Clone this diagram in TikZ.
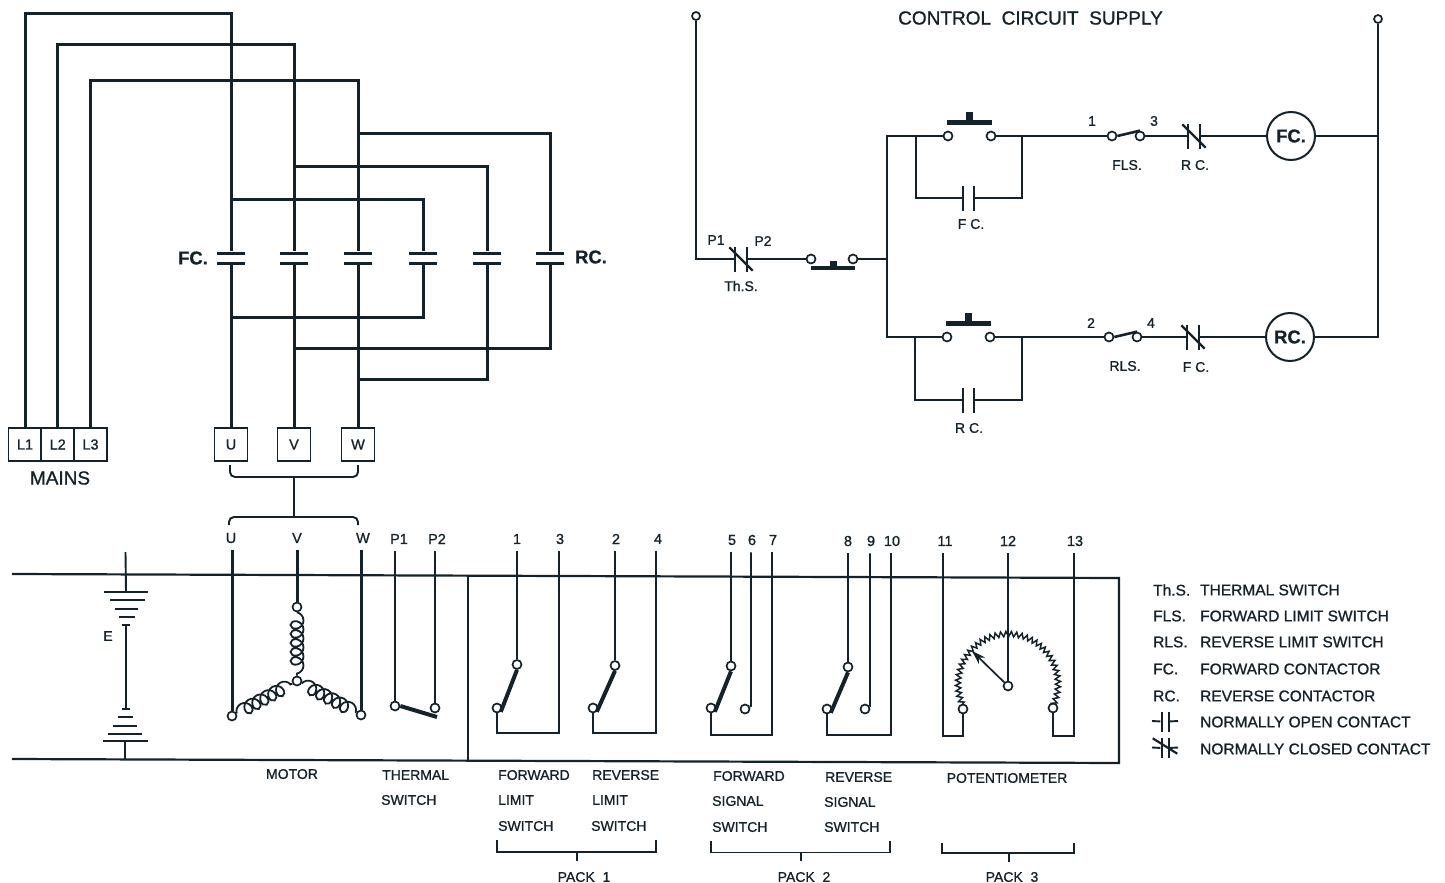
\documentclass[tikz,border=0pt]{standalone}
\usepackage{fontspec}
\setmainfont{Liberation Sans}[FakeBold=1]
\usetikzlibrary{arrows.meta, decorations.pathmorphing}
\definecolor{inkc}{HTML}{15222A}
\tikzstyle{every picture} = [x=1pt,y=-1pt]
\tikzstyle{every node} = [text=inkc]
\tikzstyle{wire} = [-,line width=1.9pt,draw=inkc,line join=miter]
\tikzstyle{power} = [-,line width=3pt,draw=inkc,line join=miter]
\tikzstyle{bus} = [-,line width=2.2pt,draw=inkc,line join=miter]
\tikzstyle{blade} = [-,line width=4pt,draw=inkc]
\tikzstyle{coilwire} = [-,line width=1.8pt,draw=inkc,decorate,decoration={coil,segment length=9pt,amplitude=6.5pt,aspect=0.9}]
\tikzstyle{wiper} = [line width=1.7pt,draw=inkc,-{Stealth[length=14pt,width=9pt]}]
\tikzstyle{term} = [circle,draw=inkc,fill=white,line width=1.7pt,inner sep=0pt,minimum size=9pt]
\tikzstyle{plate} = [rectangle,fill=inkc,inner sep=0pt,minimum width=28pt,minimum height=3pt]
\tikzstyle{vplate} = [rectangle,fill=inkc,inner sep=0pt,minimum width=2pt,minimum height=25pt]
\tikzstyle{slash} = [rectangle,fill=inkc,inner sep=0pt,minimum width=33pt,minimum height=2.2pt,rotate=-45]
\tikzstyle{bar} = [rectangle,fill=inkc,inner sep=0pt,minimum width=45pt,minimum height=5pt]
\tikzstyle{bump} = [rectangle,fill=inkc,inner sep=0pt,minimum width=7pt,minimum height=8pt]
\tikzstyle{termbox} = [rectangle,draw=inkc,line width=1.8pt,minimum width=33pt,minimum height=33pt,inner sep=0pt,font=\fontsize{14.5}{16}\selectfont]
\tikzstyle{lbl} = [inner xsep=1pt,inner ysep=7pt,font=\fontsize{14.5}{16}\selectfont]
\tikzstyle{txt} = [inner sep=1pt,font=\fontsize{14}{16}\selectfont]
\tikzstyle{txtw} = [txt,anchor=west]
\tikzstyle{lgd} = [anchor=west,inner sep=1pt,font=\fontsize{15.5}{17}\selectfont]
\tikzstyle{bold} = [inner sep=0pt,font=\bfseries\fontsize{18.5}{20}\selectfont]
\tikzstyle{coilnode} = [circle,draw=inkc,line width=2pt,inner sep=0pt,minimum size=48pt,font=\bfseries\fontsize{18.5}{20}\selectfont]
\begin{document}
\begin{tikzpicture}
            \fill[white] (0,0) rectangle (1445,883);
            \useasboundingbox (0,0) rectangle (1445,883);

            % mains and contactors
            \node (box L1) at(25,444.5) [termbox] {L1};
            \node (box L2) at(57.7,444.5) [termbox] {L2};
            \node (box L3) at(90.5,444.5) [termbox] {L3};
            \node (box U) at(231,444.5) [termbox] {U};
            \node (box V) at(294,444.5) [termbox] {V};
            \node (box W) at(358,444.5) [termbox] {W};
            \node (mains) at(60,478) [inner sep=1pt,font=\fontsize{19}{21}\selectfont] {MAINS};

            \node (fc U top) at(231,253) [plate] {};
            \node (fc U bot) at(231,263) [plate] {};
            \node (fc V top) at(294,253) [plate] {};
            \node (fc V bot) at(294,263) [plate] {};
            \node (fc W top) at(358,253) [plate] {};
            \node (fc W bot) at(358,263) [plate] {};
            \node (rc U top) at(423,253) [plate] {};
            \node (rc U bot) at(423,263) [plate] {};
            \node (rc V top) at(487,253) [plate] {};
            \node (rc V bot) at(487,263) [plate] {};
            \node (rc W top) at(550,253) [plate] {};
            \node (rc W bot) at(550,263) [plate] {};
            \node (fc name) at(193,258) [bold] {FC.};
            \node (rc name) at(591,257) [bold] {RC.};

            \coordinate (L1 a) at(25,14);
            \coordinate (L1 b) at(231,14);
            \coordinate (L2 a) at(57.7,45);
            \coordinate (L2 b) at(294,45);
            \coordinate (L3 a) at(90.5,80);
            \coordinate (L3 b) at(358,80);
            \coordinate (up U) at(231,199);
            \coordinate (up V) at(294,166);
            \coordinate (up W) at(358,133);
            \coordinate (dn U) at(231,317);
            \coordinate (dn V) at(294,348);
            \coordinate (dn W) at(358,379);

            \draw[power] (box L1) -- (L1 a) -- (L1 b) -- (fc U top);
            \draw[power] (box L2) -- (L2 a) -- (L2 b) -- (fc V top);
            \draw[power] (box L3) -- (L3 a) -- (L3 b) -- (fc W top);
            \draw[power] (up U) -| (rc U top);
            \draw[power] (up V) -| (rc V top);
            \draw[power] (up W) -| (rc W top);
            \draw[power] (dn U) -| (rc U bot);
            \draw[power] (dn V) -| (rc W bot);
            \draw[power] (dn W) -| (rc V bot);
            \path   (fc U bot) edge[power] (box U)
                    (fc V bot) edge[power] (box V)
                    (fc W bot) edge[power] (box W);

            % brace between the terminals and the motor
            \coordinate (brace U) at(230,465);
            \coordinate (brace W) at(358,465);
            \coordinate (brace top) at(294,477);
            \coordinate (brace bot) at(294,517);
            \coordinate (brace u) at(229,525);
            \coordinate (brace w) at(358,525);
            \draw[wire,rounded corners=5pt] (brace U) |- (brace top) -| (brace W);
            \draw[wire,rounded corners=5pt] (brace u) |- (brace bot) -| (brace w);
            \path (brace top) edge[wire] (brace bot);

            % battery and frame
            \coordinate (frame a) at(12,574);
            \coordinate (frame b) at(1119,578);
            \coordinate (frame c) at(1119,763);
            \coordinate (frame d) at(12,759);
            \coordinate (frame e) at(468,576);
            \coordinate (frame f) at(468,760);
            \draw[bus] (frame a) -- (frame b) -- (frame c) -- (frame d);
            \path (frame e) edge[bus] (frame f);

            \coordinate (bat top) at(125.5,552);
            \coordinate (bat foot) at(125.5,759);
            \node (bat 1) at(126,592) [plate,minimum width=44pt,minimum height=2pt] {};
            \node (bat 2) at(127,600) [plate,minimum width=35pt,minimum height=2pt] {};
            \node (bat 3) at(126,608.5) [plate,minimum width=23pt,minimum height=2pt] {};
            \node (bat 4) at(127,617) [plate,minimum width=16pt,minimum height=2pt] {};
            \node (bat 5) at(126,625) [plate,minimum width=8pt,minimum height=2pt] {};
            \node (bat 6) at(126,709) [plate,minimum width=8pt,minimum height=2pt] {};
            \node (bat 7) at(125.5,717) [plate,minimum width=15pt,minimum height=2pt] {};
            \node (bat 8) at(125,726) [plate,minimum width=24pt,minimum height=2pt] {};
            \node (bat 9) at(125,733.5) [plate,minimum width=34pt,minimum height=2pt] {};
            \node (bat 10) at(125,741) [plate,minimum width=45pt,minimum height=2pt] {};
            \node (bat name) at(108,636) [txt] {E};
            \path   (bat top) edge[wire] (bat 1)
                    (bat 5) edge[wire] (bat 6)
                    (bat 10 |- bat foot) edge[wire] (bat 10);

            % motor
            \node (lbl U) at(231,538) [lbl] {U};
            \node (lbl V) at(297,538) [lbl] {V};
            \node (lbl W) at(363,538) [lbl] {W};
            \node (mot U) at(232,716) [term] {};
            \node (mot V) at(297,607) [term] {};
            \node (mot W) at(361,715) [term] {};
            \node (mot N) at(297,681) [term] {};
            \path   (mot V) edge[coilwire] (mot N)
                    (mot U) edge[coilwire] (mot N)
                    (mot N) edge[coilwire] (mot W);
            \path   (mot U |- lbl U.south) edge[power] (mot U)
                    (mot V |- lbl V.south) edge[power] (mot V)
                    (mot W |- lbl W.south) edge[power] (mot W);
            \node (motor name) at(292,774) [txt] {MOTOR};

            % thermal switch
            \node (lbl P1) at(399,539) [lbl] {P1};
            \node (lbl P2) at(437,539) [lbl] {P2};
            \node (therm a) at(395,706) [term] {};
            \node (therm b) at(435,708) [term] {};
            \coordinate (therm end) at(437,717);
            \path   (therm a |- lbl P1.south) edge[wire] (therm a)
                    (therm b |- lbl P2.south) edge[wire] (therm b)
                    (therm a.east) edge[blade] (therm end);
            \node (therm name a) at(381,775) [txtw] {THERMAL};
            \node (therm name b) at(380,800) [txtw] {SWITCH};

            % pack 1
            \node (lbl 1) at(517,539) [lbl] {1};
            \node (lbl 3) at(560,539) [lbl] {3};
            \node (lbl 2) at(616,539) [lbl] {2};
            \node (lbl 4) at(658,539) [lbl] {4};
            \node (fls up) at(517,664.5) [term] {};
            \node (fls low) at(497,708) [term] {};
            \node (rls up) at(615,665.5) [term] {};
            \node (rls low) at(593,708) [term] {};
            \coordinate (fls back) at(559,733);
            \coordinate (rls back) at(656,733);
            \path   (fls up |- lbl 1.south) edge[wire] (fls up)
                    (rls up |- lbl 2.south) edge[wire] (rls up)
                    (fls low.south east) edge[blade] (fls up.south)
                    (rls low.south east) edge[blade] (rls up.south);
            \draw[wire] (fls low) |- (fls back) -- (fls back |- lbl 3.south);
            \draw[wire] (rls low) |- (rls back) -- (rls back |- lbl 4.south);

            % pack 2
            \node (lbl 5) at(732,540) [lbl] {5};
            \node (lbl 6) at(752,540) [lbl] {6};
            \node (lbl 7) at(773,540) [lbl] {7};
            \node (lbl 8) at(848,541) [lbl] {8};
            \node (lbl 9) at(871,541) [lbl] {9};
            \node (lbl 10) at(892,541) [lbl] {10};
            \node (fss up) at(731,666) [term] {};
            \node (fss low) at(711,708) [term] {};
            \node (fss nc) at(745,709) [term] {};
            \node (rss up) at(848,667) [term] {};
            \node (rss low) at(827,709) [term] {};
            \node (rss nc) at(865,709) [term] {};
            \coordinate (fss back) at(772,735);
            \coordinate (rss back) at(891,735);
            \coordinate (fss turn) at(751,706);
            \coordinate (rss turn) at(870,706);
            \path   (fss up |- lbl 5.south) edge[wire] (fss up)
                    (rss up |- lbl 8.south) edge[wire] (rss up)
                    (fss low.south east) edge[blade] (fss up.south)
                    (rss low.south east) edge[blade] (rss up.south);
            \draw[wire] (fss turn |- lbl 6.south) -- (fss turn) -- (fss nc);
            \draw[wire] (rss turn |- lbl 9.south) -- (rss turn) -- (rss nc);
            \draw[wire] (fss low) |- (fss back) -- (fss back |- lbl 7.south);
            \draw[wire] (rss low) |- (rss back) -- (rss back |- lbl 10.south);

            % potentiometer
            \draw[wire,line width=1.5pt,decorate,decoration={zigzag,segment length=5.2pt,amplitude=2.6pt}]
                plot[domain=207:-27,samples=60] ({1008+50*cos(\x)},{684-50*sin(\x)});
            \node (lbl 11) at(945,541) [lbl] {11};
            \node (lbl 12) at(1008,541) [lbl] {12};
            \node (lbl 13) at(1075,541) [lbl] {13};
            \node (pot a) at(963,709) [term] {};
            \node (pot b) at(1053,708) [term] {};
            \node (pot c) at(1008,686) [term] {};
            \coordinate (pot tip) at(972,651);
            \coordinate (pot a back) at(943,736);
            \coordinate (pot b back) at(1074,736);
            \draw[wire] (pot a back |- lbl 11.south) -- (pot a back) -| (pot a);
            \draw[wire] (pot b back |- lbl 13.south) -- (pot b back) -| (pot b);
            \path   (lbl 12.south) edge[wire] (pot c)
                    (pot c) edge[wiper] (pot tip);

            % switch names and packs
            \node (name a1) at(497,775) [txtw] {FORWARD};
            \node (name a2) at(497,800) [txtw] {LIMIT};
            \node (name a3) at(497,826) [txtw] {SWITCH};
            \node (name b1) at(591,775) [txtw] {REVERSE};
            \node (name b2) at(591,800) [txtw] {LIMIT};
            \node (name b3) at(590,826) [txtw] {SWITCH};
            \node (name c1) at(712,776) [txtw] {FORWARD};
            \node (name c2) at(711,801) [txtw] {SIGNAL};
            \node (name c3) at(711,827) [txtw] {SWITCH};
            \node (name d1) at(824,777) [txtw] {REVERSE};
            \node (name d2) at(823,802) [txtw] {SIGNAL};
            \node (name d3) at(823,827) [txtw] {SWITCH};
            \node (name e) at(1007,778) [txt] {POTENTIOMETER};

            \coordinate (pack1 a) at(497,840);
            \coordinate (pack1 b) at(656,840);
            \coordinate (pack1 m) at(577,852);
            \coordinate (pack1 s) at(577,861);
            \coordinate (pack2 a) at(711,841);
            \coordinate (pack2 b) at(890,841);
            \coordinate (pack2 m) at(801,852.5);
            \coordinate (pack2 s) at(801,861);
            \coordinate (pack3 a) at(942,843);
            \coordinate (pack3 b) at(1074,843);
            \coordinate (pack3 m) at(1009,853);
            \coordinate (pack3 s) at(1009,862);
            \draw[wire] (pack1 a) |- (pack1 m) -| (pack1 b);
            \draw[wire] (pack2 a) |- (pack2 m) -| (pack2 b);
            \draw[wire] (pack3 a) |- (pack3 m) -| (pack3 b);
            \path   (pack1 m) edge[wire] (pack1 s)
                    (pack2 m) edge[wire] (pack2 s)
                    (pack3 m) edge[wire] (pack3 s);
            \node (pack1 name) at(584,877) [txt] {PACK\ \ 1};
            \node (pack2 name) at(804,877) [txt] {PACK\ \ 2};
            \node (pack3 name) at(1012,877) [txt] {PACK\ \ 3};

            % control circuit
            \node (supply name) at(1030.5,18) [inner sep=1pt,font=\fontsize{19}{21}\selectfont] {CONTROL\ \ CIRCUIT\ \ SUPPLY};
            \node (supply L) at(696,16) [term,minimum size=8pt] {};
            \node (supply R) at(1378,19) [term,minimum size=8pt] {};
            \coordinate (supply c) at(696,259);
            \node (ths a) at(735,259) [vplate] {};
            \node (ths b) at(747,259) [vplate] {};
            \node (ths s) at(741,259) [slash] {};
            \node (ths p1) at(716,240) [txt] {P1};
            \node (ths p2) at(763,241) [txt] {P2};
            \node (ths name) at(741,286) [txt] {Th.S.};
            \node (stop a) at(811,259) [term] {};
            \node (stop b) at(853,259) [term] {};
            \node (stop bar) at(833,268) [bar,minimum width=44pt,minimum height=4.5pt] {};
            \node (stop bump) at(833,264) [bump,minimum height=6pt] {};
            \coordinate (rail j) at(887,259);
            \coordinate (rail t) at(887,136);
            \coordinate (rail l) at(887,337);
            \draw[wire] (supply L) -- (supply c) -- (ths a);
            \path   (ths b) edge[wire] (stop a)
                    (stop b) edge[wire] (rail j);

            % forward branch
            \node (fwd a) at(948,136) [term] {};
            \node (fwd b) at(991,136) [term] {};
            \node (fwd bar) at(969.5,122) [bar] {};
            \node (fwd bump) at(969,116) [bump] {};
            \node (hold fa) at(963,198) [vplate] {};
            \node (hold fb) at(974,198) [vplate] {};
            \node (hold fname) at(971,224) [txt] {F C.};
            \coordinate (hold f1) at(916,136);
            \coordinate (hold f2) at(1022,136);
            \draw[wire] (hold f1) |- (hold fa);
            \draw[wire] (hold fb) -| (hold f2);
            \node (lbl c1) at(1092,121) [txt] {1};
            \node (lbl c3) at(1154,121) [txt] {3};
            \node (fls a) at(1112,136) [term] {};
            \node (fls b) at(1140,136) [term] {};
            \node (fls name) at(1127,165) [txt] {FLS.};
            \node (fnc a) at(1188,136) [vplate] {};
            \node (fnc b) at(1200,136) [vplate] {};
            \node (fnc s) at(1194,136) [slash] {};
            \node (fnc name) at(1195,165) [txt] {R C.};
            \node (fc coil) at(1291,136) [coilnode] {FC.};
            \coordinate (right t) at(1378,136);
            \path   (fwd b) edge[wire] (fls a)
                    (fls a.east) edge[-,line width=2.6pt,draw=inkc] (fls b.north)
                    (fls b) edge[wire] (fnc a)
                    (fnc b) edge[wire] (fc coil)
                    (fc coil) edge[wire] (right t);

            % reverse branch
            \node (rev a) at(947,337) [term] {};
            \node (rev b) at(990,337) [term] {};
            \node (rev bar) at(968,323) [bar] {};
            \node (rev bump) at(968,317) [bump] {};
            \node (hold ra) at(963,400) [vplate] {};
            \node (hold rb) at(974,400) [vplate] {};
            \node (hold rname) at(969,428) [txt] {R C.};
            \coordinate (hold r1) at(915,337);
            \coordinate (hold r2) at(1022,337);
            \draw[wire] (fwd a) -- (rail t) -- (rail l) -- (rev a);
            \draw[wire] (hold r1) |- (hold ra);
            \draw[wire] (hold rb) -| (hold r2);
            \node (lbl d2) at(1091,323) [txt] {2};
            \node (lbl d4) at(1151,323) [txt] {4};
            \node (rls a) at(1109,337) [term] {};
            \node (rls b) at(1137,337) [term] {};
            \node (rls name) at(1125,366) [txt] {RLS.};
            \node (rnc a) at(1187,337) [vplate] {};
            \node (rnc b) at(1199,337) [vplate] {};
            \node (rnc s) at(1193,337) [slash] {};
            \node (rnc name) at(1196,367) [txt] {F C.};
            \node (rc coil) at(1290,337) [coilnode] {RC.};
            \coordinate (right l) at(1378,337);
            \path   (rev b) edge[wire] (rls a)
                    (rls a.east) edge[-,line width=2.6pt,draw=inkc] (rls b.north)
                    (rls b) edge[wire] (rnc a)
                    (rnc b) edge[wire] (rc coil);
            \draw[wire] (supply R) -- (right l) -- (rc coil);

            % legend
            \node (key a) at(1152,590) [lgd] {Th.S.};
            \node (key b) at(1152,616) [lgd] {FLS.};
            \node (key c) at(1152,642) [lgd] {RLS.};
            \node (key d) at(1152,669) [lgd] {FC.};
            \node (key e) at(1152,696) [lgd] {RC.};
            \node (val a) at(1199,590) [lgd] {THERMAL SWITCH};
            \node (val b) at(1199,616) [lgd] {FORWARD LIMIT SWITCH};
            \node (val c) at(1199,642) [lgd] {REVERSE LIMIT SWITCH};
            \node (val d) at(1199,669) [lgd] {FORWARD CONTACTOR};
            \node (val e) at(1199,696) [lgd] {REVERSE CONTACTOR};
            \node (val f) at(1199,722) [lgd] {NORMALLY OPEN CONTACT};
            \node (val g) at(1199,749) [lgd] {NORMALLY CLOSED CONTACT};
            \coordinate (no l) at(1152,721);
            \coordinate (no r) at(1178,721);
            \coordinate (nc l) at(1152,747.5);
            \coordinate (nc r) at(1178,747.5);
            \node (no a) at(1161.5,721.5) [vplate,minimum height=20pt] {};
            \node (no b) at(1168.5,721.5) [vplate,minimum height=20pt] {};
            \node (nc a) at(1161.5,748) [vplate,minimum height=20pt] {};
            \node (nc b) at(1168.5,748) [vplate,minimum height=20pt] {};
            \node (nc s) at(1165,746) [slash,minimum width=29pt,rotate=13] {};
            \path   (no l) edge[wire] (no a)
                    (no b) edge[wire] (no r)
                    (nc l) edge[wire] (nc a)
                    (nc b) edge[wire] (nc r);
\end{tikzpicture}
\end{document}
